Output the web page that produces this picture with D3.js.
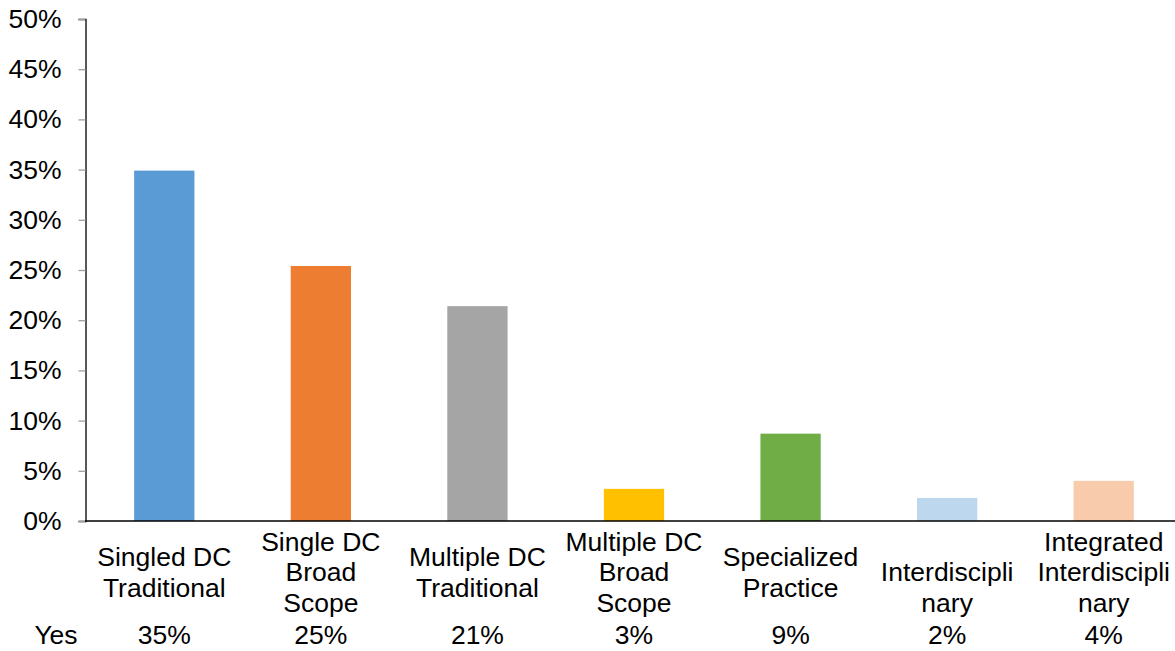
<!DOCTYPE html>
<html>
<head>
<meta charset="utf-8">
<script src="https://cdn.jsdelivr.net/npm/d3@7"></script>
<style>
  html, body { margin: 0; padding: 0; background: #fff; }
  svg { display: block; }
  text { font-family: "Liberation Sans", Arial, sans-serif; fill: #000; }
</style>
</head>
<body>
<svg id="chart" width="1175" height="651"></svg>
<script>
// Practice categories, with their wrapped label lines
const categories = [
  "Singled DC Traditional",
  "Single DC Broad Scope",
  "Multiple DC Traditional",
  "Multiple DC Broad Scope",
  "Specialized Practice",
  "Interdisciplinary",
  "Integrated Interdisciplinary"
];
const labelLines = [
  ["Singled DC", "Traditional"],
  ["Single DC", "Broad", "Scope"],
  ["Multiple DC", "Traditional"],
  ["Multiple DC", "Broad", "Scope"],
  ["Specialized", "Practice"],
  ["", "Interdiscipli", "nary"],
  ["Integrated", "Interdiscipli", "nary"]
];
// Share answering "Yes"
const seriesName = "Yes";
const yesValues = [0.349, 0.254, 0.214, 0.032, 0.087, 0.023, 0.040];
const barColors = ["#5B9BD5", "#ED7D31", "#A5A5A5", "#FFC000", "#70AD47", "#BDD7EE", "#F8CBAD"];
const yTicks = [0, 0.05, 0.10, 0.15, 0.20, 0.25, 0.30, 0.35, 0.40, 0.45, 0.50];

const svg = d3.select("#chart");
const plotLeft = 86, plotRight = 1182, plotTop = 19, plotBottom = 521;
const fontSize = 26.5;

const x = d3.scaleBand().domain(categories).range([plotLeft, plotRight]).paddingInner(0).paddingOuter(0);
const y = d3.scaleLinear().domain([0, 0.5]).range([plotBottom, plotTop]);
const pct = d3.format(".0%");
const barW = x.bandwidth() * 0.385;

// Bars
svg.append("g").selectAll("rect")
  .data(categories)
  .join("rect")
  .attr("x", (d) => x(d) + x.bandwidth() / 2 - barW / 2)
  .attr("width", barW)
  .attr("y", (d, i) => y(yesValues[i]))
  .attr("height", (d, i) => y(0) - y(yesValues[i]))
  .attr("fill", (d, i) => barColors[i]);

// Y axis
const yAxis = d3.axisLeft(y).tickValues(yTicks).tickFormat(pct).tickSize(7).tickPadding(17);
const gy = svg.append("g").attr("transform", `translate(${plotLeft - 0.5},0)`).call(yAxis);
gy.select(".domain").attr("stroke", "#000").attr("stroke-width", 1.3);
gy.selectAll(".tick line").attr("stroke", "#A0A0A0").attr("stroke-width", 1.3);
gy.selectAll(".tick text").attr("font-size", fontSize).attr("font-family", "Liberation Sans, Arial, sans-serif").attr("fill", "#000");

// Baseline
svg.append("line")
  .attr("x1", plotLeft - 1).attr("x2", 1175)
  .attr("y1", y(0)).attr("y2", y(0))
  .attr("stroke", "#000").attr("stroke-width", 1.5);

// Category labels
const lineH = 30.5;
const labelCenter = 572;
const lg = svg.append("g").attr("font-size", fontSize).attr("text-anchor", "middle");
categories.forEach((c, i) => {
  const lines = labelLines[i];
  const start = labelCenter - (lines.length - 1) * lineH / 2;
  lines.forEach((ln, j) => {
    if (!ln) return;
    lg.append("text")
      .attr("x", x(c) + x.bandwidth() / 2)
      .attr("y", start + j * lineH)
      .attr("dy", "0.35em")
      .text(ln);
  });
});

// Data table row
const rowY = 635;
svg.append("text")
  .attr("x", 56).attr("y", rowY).attr("dy", "0.35em")
  .attr("font-size", fontSize).attr("text-anchor", "middle")
  .text(seriesName);
svg.append("g").attr("font-size", fontSize).attr("text-anchor", "middle")
  .selectAll("text")
  .data(categories)
  .join("text")
  .attr("x", (d) => x(d) + x.bandwidth() / 2)
  .attr("y", rowY)
  .attr("dy", "0.35em")
  .text((d, i) => pct(yesValues[i]));
</script>
</body>
</html>
